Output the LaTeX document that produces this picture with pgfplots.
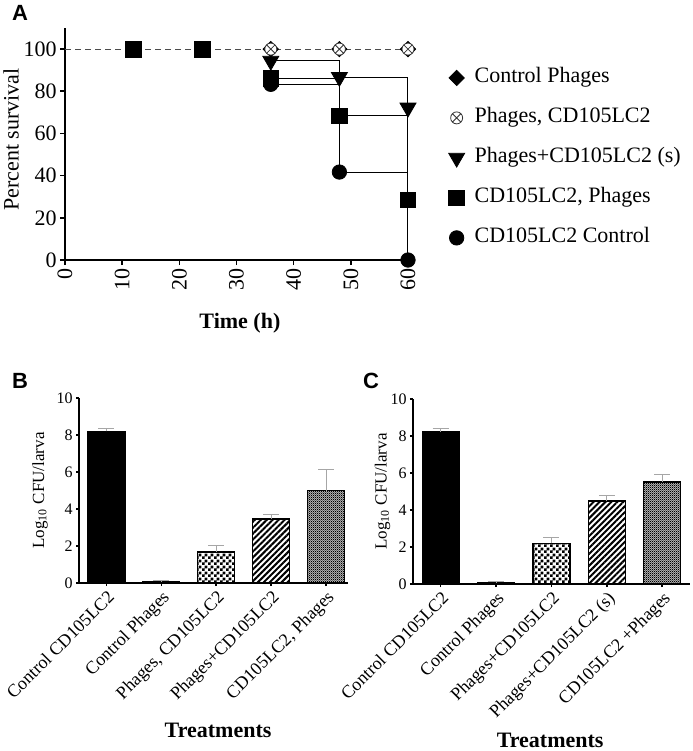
\documentclass[border=0pt]{standalone}
\usepackage{fontspec}
\setmainfont{Liberation Serif}
\setsansfont{Liberation Sans}
\usepackage{pgfplots}
\pgfplotsset{compat=1.18}
\usetikzlibrary{patterns,patterns.meta}

% small checkerboard and a fine grey texture for the bars
\pgfdeclarepatternformonly{smallcheck}{\pgfpointorigin}{\pgfqpoint{2.8pt}{2.8pt}}{\pgfqpoint{2.8pt}{2.8pt}}{%
  \pgfpathrectangle{\pgfpointorigin}{\pgfqpoint{1.4pt}{1.4pt}}%
  \pgfpathrectangle{\pgfqpoint{1.4pt}{1.4pt}}{\pgfqpoint{1.4pt}{1.4pt}}%
  \pgfusepath{fill}}
\pgfdeclarepatternformonly{finecheck}{\pgfpointorigin}{\pgfqpoint{1.1pt}{1.1pt}}{\pgfqpoint{1.1pt}{1.1pt}}{%
  \pgfpathrectangle{\pgfpointorigin}{\pgfqpoint{0.55pt}{0.55pt}}%
  \pgfpathrectangle{\pgfqpoint{0.55pt}{0.55pt}}{\pgfqpoint{0.55pt}{0.55pt}}%
  \pgfusepath{fill}}

\pgfplotsset{
  gp/.style={
    scale only axis,
    axis x line*=bottom, axis y line*=left,
    axis line style={line width=0.8pt},
    tick style={line width=0.8pt, black},
    tick align=outside,
    major tick length=2.5pt,
    /pgf/number format/assume math mode=true,
    clip=false,
  },
  mk/.style={only marks},
  km/.style={const plot, no marks, black, line width=0.5pt, forget plot},
  bb/.style={ybar, bar width=18.5pt, bar shift=0pt, draw=black, line width=0.6pt,
    error bars/y dir=plus, error bars/y explicit,
    error bars/error bar style={gray!70, line width=0.5pt},
    error bars/error mark options={rotate=90, mark size=4pt, gray!70, line width=0.5pt}},
  stripes/.style={pattern={Lines[angle=45,distance=2.1pt,line width=1pt]}},
  bars/.style={gp,
    width=134.5pt, height=92.5pt,
    ymin=0, ymax=10, ytick={0,2,...,10},
    xtick={0,...,4},
    major tick length=1.5pt,
    yticklabel style={font=\fontsize{8}{9}\selectfont, inner sep=1.5pt},
    xticklabel style={font=\fontsize{9}{10}\selectfont, rotate=45, anchor=north east, inner sep=1pt},
    ylabel={Log\textsubscript{10} CFU/larva},
    ylabel style={font=\fontsize{8.5}{10}\selectfont, anchor=center},
    xlabel={Treatments},
    xlabel style={font=\fontsize{11}{13}\selectfont\bfseries, anchor=center},
  },
}

\begin{document}
\begin{tikzpicture}
\useasboundingbox (0,0) rectangle (346pt,-375.5pt);

% ---------- A: survival ----------
\begin{axis}[gp,
  at={(32.5pt,-130pt)}, anchor=south west,
  width=171.5pt, height=116pt,
  xmin=0, xmax=60, ymin=0, ymax=110,
  xtick={0,10,...,60}, ytick={0,20,...,100},
  ticklabel style={font=\fontsize{11}{13}\selectfont},
  xticklabel style={rotate=90, anchor=east, inner sep=1.5pt},
  yticklabel style={inner sep=1.5pt},
  xlabel={Time (h)},
  xlabel style={font=\fontsize{11}{13}\selectfont\bfseries, at={(axis description cs:0.51,-0.272)}, anchor=center},
  ylabel={Percent survival},
  ylabel style={font=\fontsize{11}{13}\selectfont, at={(axis description cs:-0.157,0.52)}, anchor=center},
  legend style={at={(axis description cs:1.1,0.86)}, anchor=north west, draw=none, fill=none,
    font=\fontsize{11}{13}\selectfont, row sep=7pt, column sep=4pt,
    nodes={inner sep=1pt, text height=8pt, text depth=3pt}},
  legend cell align=left,
]
% step lines
\addplot[km, densely dashed, line width=0.4pt, black!70] coordinates {(0,100) (60,100)};
\addplot[km] coordinates {(36,100) (36,94.4) (48,86.7) (60,72.2)};
\addplot[km] coordinates {(36,100) (36,86.1) (48,68.4) (60,28.5)};
\addplot[km] coordinates {(36,100) (36,83.3) (48,41.7) (60,0)};
% markers
\addplot[mk, mark=square*, mark size=2.7pt, mark options={rotate=45}, black] coordinates {(36,100) (48,100) (60,100)};
\addlegendentry{Control Phages}
\addplot[mk, mark=otimes*, mark size=3pt, mark options={fill=white, draw=black!80, line width=0.4pt}] coordinates {(36,100) (48,100) (60,100)};
\addlegendentry{Phages, CD105LC2}
\addplot[mk, mark=triangle*, mark size=4.6pt, mark options={rotate=180, fill=black}, black] coordinates {(36,94.4) (48,86.7) (60,72.2)};
\addlegendentry{Phages+CD105LC2 (s)}
\addplot[mk, mark=square*, mark size=3.9pt, black] coordinates {(12,100) (24,100) (36,86.1) (48,68.4) (60,28.5)};
\addlegendentry{CD105LC2, Phages}
\addplot[mk, mark=*, mark size=3.6pt, black] coordinates {(36,83.3) (48,41.7) (60,0)};
\addlegendentry{CD105LC2 Control}
\end{axis}

% ---------- B ----------
\begin{axis}[bars,
  at={(39.5pt,-291.5pt)}, anchor=south west,
  xmin=-0.5, xmax=4.4,
  xticklabels={Control CD105LC2, Control Phages, {Phages, CD105LC2}, Phages+CD105LC2, {CD105LC2, Phages}},
  xlabel style={at={(axis description cs:0.517,-0.795)}},
  ylabel style={at={(axis description cs:-0.145,0.5)}},
]
\addplot[bb, fill=black] coordinates {(0,8.2) +- (0,0.16)};
\addplot[bb, fill=black] coordinates {(1,0.08) +- (0,0.05)};
\addplot[bb, pattern=smallcheck] coordinates {(2,1.68) +- (0,0.34)};
\addplot[bb, stripes] coordinates {(3,3.46) +- (0,0.27)};
\addplot[bb, fill=gray!55, postaction={pattern=finecheck}] coordinates {(4,4.99) +- (0,1.12)};
\end{axis}

% ---------- C ----------
\begin{axis}[bars,
  at={(206.5pt,-292pt)}, anchor=south west,
  width=138.5pt,
  xmin=-0.5, xmax=4.5,
  xticklabels={Control CD105LC2, Control Phages, Phages+CD105LC2, Phages+CD105LC2 (s), CD105LC2 +Phages},
  xlabel style={at={(axis description cs:0.495,-0.845)}},
  ylabel style={at={(axis description cs:-0.11,0.5)}},
]
\addplot[bb, fill=black] coordinates {(0,8.23) +- (0,0.17)};
\addplot[bb, fill=black] coordinates {(1,0.08) +- (0,0.06)};
\addplot[bb, pattern=smallcheck] coordinates {(2,2.2) +- (0,0.32)};
\addplot[bb, stripes] coordinates {(3,4.49) +- (0,0.27)};
\addplot[bb, fill=gray!55, postaction={pattern=finecheck}] coordinates {(4,5.51) +- (0,0.42)};
\end{axis}

% panel letters
\node[font=\sffamily\bfseries\fontsize{11}{13}\selectfont] at (10pt,-6.5pt) {A};
\node[font=\sffamily\bfseries\fontsize{11}{13}\selectfont] at (10pt,-190.5pt) {B};
\node[font=\sffamily\bfseries\fontsize{11}{13}\selectfont] at (185.5pt,-190.5pt) {C};
\end{tikzpicture}
\end{document}
